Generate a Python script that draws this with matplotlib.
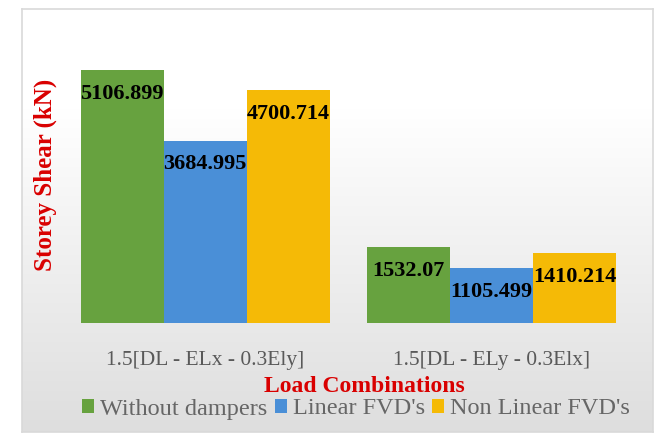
import numpy as np
import matplotlib.pyplot as plt

categories = ['1.5[DL - ELx - 0.3Ely]', '1.5[DL - ELy - 0.3Elx]']
series = ['Without dampers', "Linear FVD's", "Non Linear FVD's"]
without_dampers = [5106.899, 1532.07]
linear_fvd = [3684.995, 1105.499]
nonlinear_fvd = [4700.714, 1410.214]
value_labels = [['5106.899', '1532.07'], ['3684.995', '1105.499'], ['4700.714', '1410.214']]

colors = ['#67A23F', '#4A8FD7', '#F5BA06']
serif = 'Liberation Serif'

fig = plt.figure(figsize=(6.64, 4.34), dpi=100)

# chart background: white at the top fading to light grey, thin border
bg = fig.add_axes([22 / 664, 2 / 434, 631 / 664, 423 / 434])
grad = np.concatenate([np.ones(60), np.linspace(1.0, 0.87, 196)]).reshape(-1, 1)
bg.imshow(np.dstack([grad, grad, grad]), aspect='auto', extent=[0, 1, 0, 1])
bg.set_xlim(0, 1)
bg.set_ylim(0, 1)
bg.set_xticks([])
bg.set_yticks([])
for s in bg.spines.values():
    s.set_color('#d9d9d9')
    s.set_linewidth(1.2)

ax = fig.add_axes([62 / 664, 111 / 434, 573 / 664, 297 / 434])
ax.patch.set_alpha(0)

x = np.arange(len(categories))
width = 0.29
all_vals = [without_dampers, linear_fvd, nonlinear_fvd]
for i, vals in enumerate(all_vals):
    pos = x + (i - 1) * width
    ax.bar(pos, vals, width, color=colors[i], label=series[i], zorder=2)
    for p, v, lab in zip(pos, vals, value_labels[i]):
        ax.annotate(lab, (p, v), xytext=(0, -17), textcoords='offset points',
                    ha='center', va='center', fontsize=16, fontweight='bold',
                    family=serif, color='black', zorder=3)

ax.set_xlim(-0.5, 1.5)
ax.set_ylim(0, 6000)
ax.set_yticks([])
ax.set_xticks(x)
ax.set_xticklabels(categories, fontsize=15.5, family=serif, color='#595959')
ax.tick_params(axis='x', length=0, pad=20)
for s in ax.spines.values():
    s.set_visible(False)

fig.text(364 / 664, 1 - 386 / 434, 'Load Combinations', ha='center', va='center',
         fontsize=17, fontweight='bold', family=serif, color='#D90000')
fig.text(45 / 664, 1 - 175 / 434, 'Storey Shear (kN)', ha='center', va='center',
         rotation=90, fontsize=18, fontweight='bold', family=serif, color='#D90000')

fig.legend(loc='center', bbox_to_anchor=(356 / 664, 1 - 409 / 434), ncol=3,
           frameon=False, prop={'family': serif, 'size': 17.5},
           labelcolor='#666666', handlelength=0.5, handleheight=0.5,
           handletextpad=0.25, columnspacing=0.3, borderaxespad=0)

fig.savefig('out.png', dpi=100)
